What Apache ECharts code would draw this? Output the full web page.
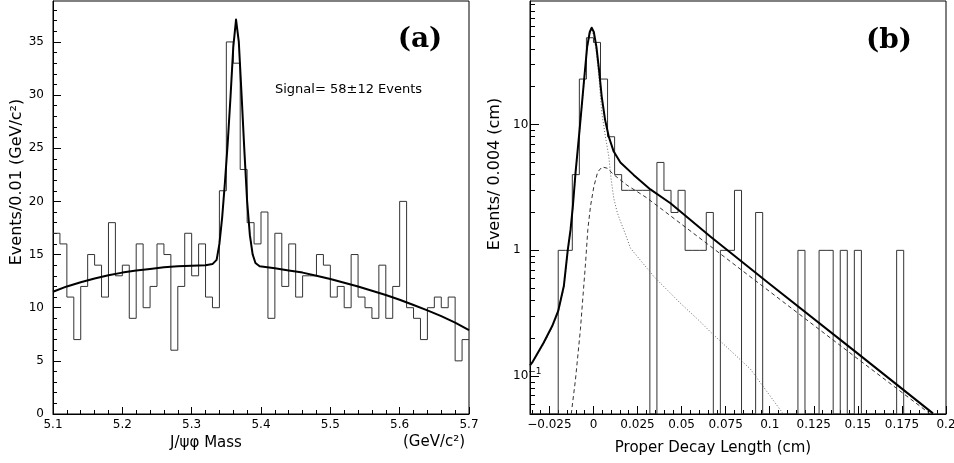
<!DOCTYPE html>
<html><head><meta charset="utf-8">
<script src="https://cdn.jsdelivr.net/npm/echarts@6/dist/echarts.min.js"></script>
<style>html,body{margin:0;padding:0;background:#fff}#c{width:954px;height:463px}</style>
</head><body><div id="c"></div>
<script>
// ---------- Panel (a): J/psi phi mass ----------
const massMin = 5.10, massBinWidth = 0.01;
const massCounts = [17,16,11,7,12,15,14,11,18,13, 14,9,16,10,12,16,15,6,12,17,
                    13,16,11,10,21,35,33,23,18,16, 19,9,17,12,16,11,13,13,15,14,
                    11,12,10,15,11,10,9,14,9,12, 20,10,9,7,10,11,10,11,5,7];
const massFitX = [5.10,5.12,5.14,5.16,5.18,5.20,5.22,5.24,5.26,5.28,5.30,5.32,5.33,5.336,5.340,5.344,5.348,5.352,5.356,5.360,5.364,5.368,5.372,5.376,5.380,5.384,5.388,5.392,5.398,5.42,5.44,5.46,5.48,5.50,5.52,5.54,5.56,5.58,5.60,5.62,5.64,5.66,5.68,5.70];
const massFitY = [11.5,12.0,12.4,12.75,13.05,13.3,13.5,13.65,13.8,13.9,13.95,14.0,14.1,14.5,16.0,18.5,21.8,25.5,29.8,34.5,37.1,35.0,30.0,24.8,20.0,16.8,15.0,14.2,13.9,13.7,13.5,13.3,13.0,12.7,12.35,12.0,11.6,11.2,10.75,10.25,9.75,9.2,8.6,7.9];
const massTicks = [5.1,5.2,5.3,5.4,5.5,5.6,5.7];
const countTicks = [0,5,10,15,20,25,30,35];

// ---------- Panel (b): proper decay length ----------
const decayMin = -0.036, decayBinWidth = 0.004;
const decayCounts = [0,0,0,0,1,1,4,23,49,45, 23,8,4,3,3,3,3,0,5,3,
                     2,3,1,1,1,2,0,1,1,3, 0,0,2,0,0,0,0,0,1,0,
                     0,1,1,0,1,0,1,0,0,0, 0,0,1,0,0,0,0,0,0];
const totalFitX = [-0.036,-0.0348,-0.0282,-0.0234,-0.020,-0.0168,-0.0146,-0.013,-0.0117,-0.0102,-0.0079,-0.0055,-0.0036,-0.0021,-0.001,0.0002,0.0017,0.0032,0.0047,0.0066,0.0087,0.0115,0.0153,0.0228,0.0323,0.0437,0.0663,0.1,0.15,0.1926];
const totalFitY = [0.122,0.128,0.185,0.25,0.33,0.52,1.0,1.46,2.23,4.1,9.0,21.2,41.3,54.4,58.9,54.4,41.3,27,16.6,10.9,8.0,6.1,5.0,3.98,3.05,2.37,1.29,0.54,0.151,0.0506];
const longFitX = [-0.0126,-0.0102,-0.0074,-0.0045,-0.0032,-0.0017,0.0002,0.0024,0.0049,0.0078,0.0115,0.019,0.03,0.04,0.0663,0.1,0.15,0.1911];
const longFitY = [0.05,0.094,0.235,0.79,1.46,2.23,3.2,4.2,4.6,4.5,4.0,3.3,2.63,2.06,1.08,0.47,0.137,0.05];
const promptFitX = [-0.036,-0.0282,-0.0234,-0.020,-0.0168,-0.0146,-0.013,-0.0117,-0.0102,-0.0079,-0.0055,-0.0036,-0.0021,-0.001,0.0002,0.0017,0.0032,0.0047,0.0068,0.0087,0.010,0.0115,0.0135,0.0153,0.0181,0.021,0.0342,0.0493,0.0607,0.0663,0.089,0.1077];
const promptFitY = [0.12,0.18,0.245,0.32,0.5,0.97,1.4,2.15,3.9,8.6,20.3,40,52.3,56,51,37,22.8,12.5,8.0,5.6,3.7,2.6,2.0,1.7,1.35,1.04,0.62,0.38,0.27,0.225,0.114,0.05];
const decayTicks = [-0.025,0,0.025,0.05,0.075,0.1,0.125,0.15,0.175,0.2];
const logTicks = [0.1,1,10];

// ---------- build ----------
const massHist = massCounts.map((c,i)=>[+(massMin+i*massBinWidth).toFixed(3), c]);
massHist.push([+(massMin+massCounts.length*massBinWidth).toFixed(3), massCounts[massCounts.length-1]]);
const decayHist = decayCounts.map((c,i)=>[
  +(decayMin+i*decayBinWidth).toFixed(4), +(decayMin+(i+1)*decayBinWidth).toFixed(4), c, i>0?decayCounts[i-1]:0]);
const zip = (a,b)=>a.map((x,i)=>[x,b[i]]);

const massMinor=[]; for(let k=0;k<=30;k++) massMinor.push(+(5.1+k*0.02).toFixed(3));
const countMinor=[]; for(let v=1; v<=38; v++) countMinor.push(v);
const decayMinor=[]; for(let k=-7;k<=39;k++) decayMinor.push(+(k*0.005).toFixed(3));
const logMinor=[]; [0.01,0.1,1,10].forEach(d=>{for(let m=2;m<=9;m++){const v=+(m*d).toPrecision(3); if(v>=0.05&&v<=96) logMinor.push(v);}});

const FONT='DejaVu Sans';
const lbl = (extra)=>Object.assign({color:'#000',fontSize:12,fontFamily:FONT},extra);
const line = {show:true,onZero:false,lineStyle:{color:'#000',width:1}};
const noLine = {show:false,onZero:false};
const tick = (vals,len)=>({show:true,inside:true,length:len,customValues:vals,lineStyle:{color:'#000',width:1}});

const chart = echarts.init(document.getElementById('c'),null,{renderer:'canvas'});
chart.setOption({
  animation:false,
  backgroundColor:'#fff',
  grid:[
    {left:53,top:1,width:416,height:413,show:true,borderColor:'#000',borderWidth:1,backgroundColor:'transparent',outerBoundsMode:'none'},
    {left:530,top:1,width:416,height:413,show:true,borderColor:'#000',borderWidth:1,backgroundColor:'transparent',outerBoundsMode:'none'}
  ],
  xAxis:[
    {gridIndex:0,type:'value',min:5.1,max:5.7,position:'bottom',axisLine:line,axisTick:tick(massTicks,7),
     axisLabel:lbl({customValues:massTicks,margin:5,formatter:v=>(+v).toFixed(1)}),splitLine:{show:false}},
    {gridIndex:0,type:'value',min:5.1,max:5.7,position:'bottom',axisLine:noLine,axisTick:tick(massMinor,4),
     axisLabel:{show:false},splitLine:{show:false}},
    {gridIndex:1,type:'value',min:-0.036,max:0.2,position:'bottom',axisLine:line,axisTick:tick(decayTicks,8),
     axisLabel:lbl({customValues:decayTicks,margin:5,formatter:v=>Math.abs(v)<1e-9?'0':String(+(+v).toFixed(3)).replace('-','\u2212')}),splitLine:{show:false}},
    {gridIndex:1,type:'value',min:-0.036,max:0.2,position:'bottom',axisLine:noLine,axisTick:tick(decayMinor,4),
     axisLabel:{show:false},splitLine:{show:false}}
  ],
  yAxis:[
    {gridIndex:0,type:'value',min:0,max:38.85,position:'left',axisLine:line,axisTick:tick(countTicks,8),
     axisLabel:lbl({customValues:countTicks,margin:9}),splitLine:{show:false}},
    {gridIndex:0,type:'value',min:0,max:38.85,position:'left',axisLine:noLine,axisTick:tick(countMinor,4),
     axisLabel:{show:false},splitLine:{show:false}},
    {gridIndex:1,type:'log',min:0.05,max:96,position:'left',axisLine:line,axisTick:tick(logTicks,9),
     axisLabel:lbl({customValues:logTicks,margin:17,align:'left',
       formatter:v=>v>5?'{b|10}':(v>0.5?'{b|1}':'{b|10}{s|\u22121}'),
       rich:{b:{fontSize:12,fontFamily:FONT,color:'#000'},s:{fontSize:9,fontFamily:FONT,color:'#000',padding:[0,0,8,0]}}}),
     splitLine:{show:false}},
    {gridIndex:1,type:'log',min:0.05,max:96,position:'left',axisLine:noLine,axisTick:tick(logMinor,5),
     axisLabel:{show:false},splitLine:{show:false}}
  ],
  series:[
    {type:'line',xAxisIndex:0,yAxisIndex:0,step:'end',data:massHist,symbol:'none',
     lineStyle:{color:'#333',width:1},z:2},
    {type:'line',xAxisIndex:0,yAxisIndex:0,data:zip(massFitX,massFitY),symbol:'none',smooth:false,
     lineStyle:{color:'#000',width:2,join:'round'},z:3},
    {type:'custom',xAxisIndex:2,yAxisIndex:2,data:decayHist,clip:true,encode:{x:[0,1],y:2},
     renderItem:(params,api)=>{
       const lo=api.value(0),hi=api.value(1),v=api.value(2),p=api.value(3);
       const cs=params.coordSys, bottom=cs.y+cs.height;
       const yOf=c=>c>0?api.coord([lo,c])[1]:bottom;
       const x0=api.coord([lo,1])[0], x1=api.coord([hi,1])[0];
       const y=yOf(v), yp=yOf(p);
       return {type:'polyline',shape:{points:[[x0,yp],[x0,y],[x1,y]]},style:{stroke:'#333',lineWidth:1,fill:null}};
     },z:2},
    {type:'line',xAxisIndex:2,yAxisIndex:2,data:zip(promptFitX,promptFitY),symbol:'none',smooth:false,
     lineStyle:{color:'#666',width:1,type:[1,2]},z:3},
    {type:'line',xAxisIndex:2,yAxisIndex:2,data:zip(longFitX,longFitY),symbol:'none',smooth:false,
     lineStyle:{color:'#333',width:1,type:[4,3]},z:3},
    {type:'line',xAxisIndex:2,yAxisIndex:2,data:zip(totalFitX,totalFitY),symbol:'none',smooth:false,
     lineStyle:{color:'#000',width:2,join:'round'},z:4}
  ],
  graphic:[
    {type:'text',x:275,y:90,style:{text:'Signal= 58±12 Events',font:'13px "DejaVu Sans"',fill:'#000',textAlign:'left',textVerticalAlign:'middle'}},
    {type:'text',x:420,y:40,style:{text:'(a)',font:'bold 28px "DejaVu Serif"',fill:'#000',textAlign:'center',textVerticalAlign:'middle'}},
    {type:'text',x:889,y:41,style:{text:'(b)',font:'bold 28px "DejaVu Serif"',fill:'#000',textAlign:'center',textVerticalAlign:'middle'}},
    {type:'text',x:206,y:443,style:{text:'J/ψφ Mass',font:'15px "DejaVu Sans"',fill:'#000',textAlign:'center',textVerticalAlign:'middle'}},
    {type:'text',x:434,y:442,style:{text:'(GeV/c²)',font:'15px "DejaVu Sans"',fill:'#000',textAlign:'center',textVerticalAlign:'middle'}},
    {type:'text',x:713,y:448,style:{text:'Proper Decay Length (cm)',font:'15px "DejaVu Sans"',fill:'#000',textAlign:'center',textVerticalAlign:'middle'}},
    {type:'text',x:17,y:182,rotation:Math.PI/2,style:{text:'Events/0.01 (GeV/c²)',font:'16px "DejaVu Sans"',fill:'#000',textAlign:'center',textVerticalAlign:'middle'}},
    {type:'text',x:495,y:174,rotation:Math.PI/2,style:{text:'Events/ 0.004 (cm)',font:'16px "DejaVu Sans"',fill:'#000',textAlign:'center',textVerticalAlign:'middle'}}
  ]
});
</script></body></html>
